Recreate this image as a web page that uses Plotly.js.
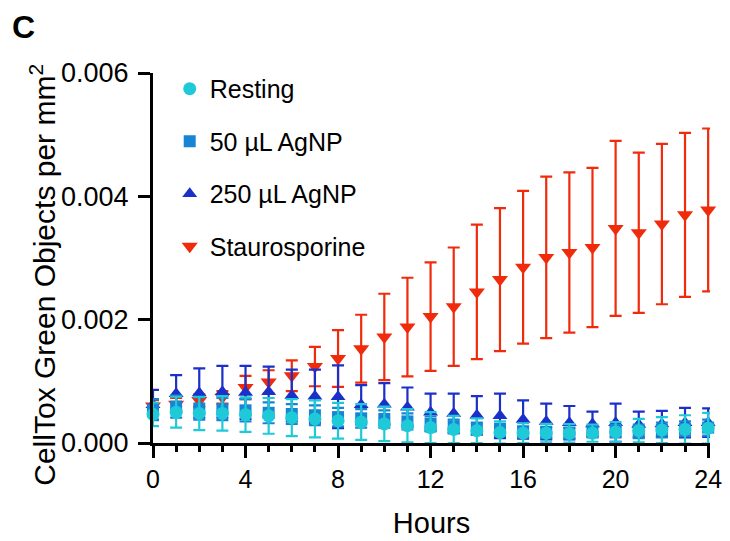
<!DOCTYPE html>
<html>
<head>
<meta charset="utf-8">
<script src="https://cdn.plot.ly/plotly-3.0.1.min.js"></script>
<style>html,body{margin:0;padding:0;background:#fff;}#chart{width:730px;height:541px;}</style>
</head>
<body>
<div id="chart"></div>
<script>
const hours = [0,1,2,3,4,5,6,7,8,9,10,11,12,13,14,15,16,17,18,19,20,21,22,23,24];
const xTicks = [0,4,8,12,16,20,24];
const yTicks = [0,0.002,0.004,0.006];

const restingMean = [0.000465,0.00050,0.00048,0.00048,0.00046,0.00044,0.00041,0.00039,0.00036,0.00034,0.00031,0.00028,0.00025,0.00022,0.00020,0.00017,0.00016,0.00016,0.000155,0.00016,0.00018,0.00020,0.00021,0.00022,0.00024];
const restingSD   = [0.00019,0.00025,0.00027,0.00028,0.00028,0.00029,0.00030,0.00030,0.00029,0.00029,0.00028,0.00027,0.00025,0.00022,0.00020,0.00018,0.00016,0.00015,0.00015,0.00014,0.00016,0.00019,0.00021,0.00023,0.00025];

const ag50Mean = [0.00054,0.00059,0.00056,0.00055,0.00053,0.00049,0.00047,0.00045,0.00042,0.00040,0.00039,0.00035,0.00031,0.00027,0.00023,0.00021,0.00018,0.00017,0.00016,0.00018,0.00019,0.00019,0.00021,0.00023,0.00025];
const ag50SD   = [0.00017,0.00018,0.00018,0.00018,0.00018,0.00017,0.00016,0.00016,0.00015,0.00015,0.00014,0.00013,0.00012,0.00011,0.00010,0.00010,0.00009,0.00009,0.00009,0.00009,0.00010,0.00011,0.00012,0.00012,0.00013];

const ag250Mean = [0.00062,0.00080,0.00081,0.00083,0.00082,0.00083,0.00077,0.00076,0.00075,0.00062,0.00063,0.00058,0.00050,0.00048,0.00045,0.00044,0.00038,0.00035,0.00033,0.00031,0.00033,0.00030,0.00031,0.00033,0.00033];
const ag250SD   = [0.00024,0.00030,0.00040,0.00042,0.00043,0.00041,0.00042,0.00043,0.00051,0.00032,0.00034,0.00032,0.00030,0.00032,0.00031,0.00036,0.00031,0.00029,0.00027,0.00020,0.00031,0.00021,0.00021,0.00024,0.00023];

const stauroMean = [0.00060,0.00063,0.00069,0.00074,0.00090,0.00099,0.00109,0.00124,0.00137,0.00153,0.00172,0.00188,0.00205,0.00221,0.00245,0.00265,0.00285,0.00301,0.00309,0.00317,0.00348,0.00341,0.00355,0.00370,0.00378];
const stauroSD   = [0.00010,0.00010,0.00010,0.00010,0.00019,0.00019,0.00025,0.00032,0.00046,0.00055,0.00070,0.00080,0.00088,0.00096,0.00109,0.00116,0.00124,0.00131,0.00130,0.00129,0.00142,0.00130,0.00130,0.00133,0.00132];

const FONT = "Liberation Sans, Arial, Helvetica, sans-serif";

function series(name, y, sd, color, symbol, size, rank) {
  return {
    type: 'scatter', mode: 'markers', name: name, x: hours, y: y,
    legendgroup: name, legendrank: rank,
    marker: {color: color, symbol: symbol, size: size, line: {width: 0}},
    error_y: {type: 'data', array: sd, visible: true, color: color, thickness: 2.2, width: 6},
    cliponaxis: false
  };
}

const data = [
  series('Staurosporine', stauroMean, stauroSD, '#ef2b0c', 'triangle-down', 14, 4),
  series('250 µL AgNP', ag250Mean, ag250SD, '#1a30c8', 'triangle-up', 13, 3),
  series('50 µL AgNP', ag50Mean, ag50SD, '#1785d3', 'square', 12, 2),
  series('Resting', restingMean, restingSD, '#1fcad8', 'circle', 13, 1)
];

const layout = {
  width: 730, height: 541,
  margin: {l: 153, r: 20, t: 73, b: 98},
  paper_bgcolor: '#fff', plot_bgcolor: '#fff',
  font: {family: FONT, color: '#000', size: 25},
  showlegend: true,
  legend: {x: 0.03, y: 1.019, xanchor: 'left', yanchor: 'top', font: {size: 25, family: FONT},
           tracegroupgap: 17, bgcolor: 'rgba(0,0,0,0)', itemsizing: 'trace'},
  xaxis: {
    range: [0, 24.08], tickvals: xTicks, ticktext: xTicks.map(String),
    showgrid: false, zeroline: false, showline: true, linecolor: '#000', linewidth: 3,
    ticks: 'outside', ticklen: 12, tickwidth: 3, tickcolor: '#000',
    minor: {dtick: 1, ticks: 'outside', ticklen: 6, tickwidth: 3, tickcolor: '#000', showgrid: false},
    tickfont: {size: 25, family: FONT},
    title: {text: 'Hours', font: {size: 29, family: FONT}, standoff: 21}
  },
  yaxis: {
    range: [0, 0.006], tickvals: yTicks, ticktext: yTicks.map(v => v.toFixed(3)),
    showgrid: false, zeroline: false, showline: true, linecolor: '#000', linewidth: 3,
    ticks: 'outside', ticklen: 12, tickwidth: 3, tickcolor: '#000',
    ticklabelstandoff: 4,
    tickfont: {size: 27, family: FONT}
  },
  annotations: [
    {text: '<b>C</b>', xref: 'paper', yref: 'paper', x: -0.257, y: 1.125, xanchor: 'left', yanchor: 'middle',
     showarrow: false, font: {size: 32, family: FONT}},
    {text: 'CellTox Green Objects per mm<sup>2</sup>', xref: 'paper', yref: 'paper', x: -0.198, y: 0.454,
     xanchor: 'center', yanchor: 'middle', textangle: -90, showarrow: false, font: {size: 30, family: FONT}}
  ]
};

Plotly.newPlot('chart', data, layout, {displayModeBar: false, staticPlot: true});
</script>
</body>
</html>
